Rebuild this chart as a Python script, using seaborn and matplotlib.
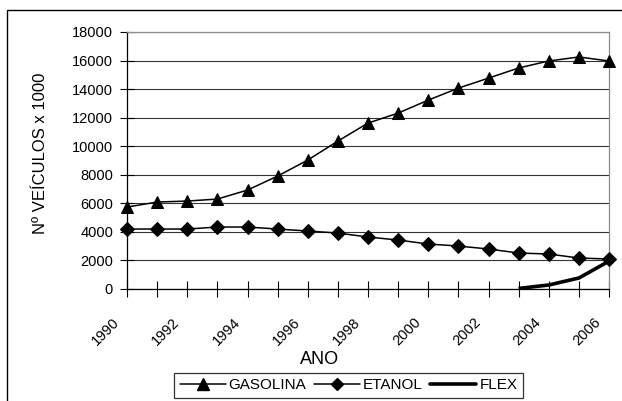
import matplotlib
matplotlib.use("Agg")
import matplotlib.pyplot as plt
import matplotlib.transforms as mtransforms
from matplotlib.patches import Rectangle
from matplotlib.lines import Line2D
import seaborn as sns
import pandas as pd

years = [1990, 1991, 1992, 1993, 1994, 1995, 1996, 1997, 1998,
         1999, 2000, 2001, 2002, 2003, 2004, 2005, 2006]
gasolina = [5740, 6090, 6160, 6300, 6930, 7910, 9030, 10360, 11620,
            12320, 13230, 14070, 14770, 15480, 15970, 16250, 15970]
etanol = [4200, 4200, 4200, 4340, 4340, 4200, 4060, 3920, 3640,
          3430, 3150, 3010, 2800, 2520, 2450, 2170, 2100]
flex_years = [2003, 2004, 2005, 2006]
flex = [40, 280, 770, 1950]
year_ticks = list(range(1990, 2007, 2))
y_ticks = list(range(0, 18001, 2000))

sns.set_theme(style="white")
plt.rcParams["font.family"] = ["Liberation Sans", "DejaVu Sans"]
plt.rcParams["text.color"] = "black"
plt.rcParams["axes.labelcolor"] = "black"
plt.rcParams["xtick.color"] = "black"
plt.rcParams["ytick.color"] = "black"

fig = plt.figure(figsize=(6.22, 4.01), dpi=100)
W, H = 622, 401
ax = fig.add_axes([127 / W, 1 - 289 / H, (609 - 127) / W, (289 - 32) / H])

df_g = pd.DataFrame({"ano": years, "v": gasolina})
df_e = pd.DataFrame({"ano": years, "v": etanol})
df_f = pd.DataFrame({"ano": flex_years, "v": flex})

sns.lineplot(data=df_g, x="ano", y="v", ax=ax, color="black", lw=1.1,
             marker="^", markersize=9, markeredgecolor="black",
             markerfacecolor="black", clip_on=False, zorder=4)
sns.lineplot(data=df_e, x="ano", y="v", ax=ax, color="black", lw=1.1,
             marker="D", markersize=7, markeredgecolor="black",
             markerfacecolor="black", clip_on=False, zorder=4)
sns.lineplot(data=df_f, x="ano", y="v", ax=ax, color="black", lw=2.6,
             clip_on=False, zorder=4, solid_capstyle="butt")

ax.set_xlim(1990, 2006)
ax.set_ylim(0, 18000)
ax.tick_params(axis="x", bottom=True, direction="inout", length=12,
               width=0.8, color="black", pad=4)
ax.tick_params(axis="y", left=True, direction="inout", length=10,
               width=0.8, color="black", pad=5)
ax.set_yticks(y_ticks)
ax.set_yticklabels([str(v) for v in y_ticks], fontsize=10.5, color="black")
ax.set_xticks(years, minor=False)
ax.set_xticklabels([str(y) if y in year_ticks else "" for y in years],
                   fontsize=10.5, rotation=45, ha="right", va="top",
                   color="black")
offset = mtransforms.ScaledTranslation(-5 / 100, -12 / 100, fig.dpi_scale_trans)
for lbl in ax.get_xticklabels():
    lbl.set_transform(lbl.get_transform() + offset)

ax.grid(axis="y", color="#333333", lw=0.8)
ax.set_axisbelow(True)
for s in ["left", "bottom"]:
    ax.spines[s].set_color("black")
    ax.spines[s].set_linewidth(0.9)
for s in ["top", "right"]:
    ax.spines[s].set_color("#8c8c8c")
    ax.spines[s].set_linewidth(0.9)

ax.set_xlabel("ANO", fontsize=13, color="black")
ax.xaxis.set_label_coords((320 - 127) / 482, (289 - 351) / 257)
ax.xaxis.label.set_va("top")
ax.set_ylabel("Nº VEÍCULOS x 1000", fontsize=12, color="black")
ax.yaxis.set_label_coords((41 - 127) / 482, (289 - 153) / 257)
ax.yaxis.label.set_va("center")

handles = [
    Line2D([], [], color="black", lw=1.1, marker="^", markersize=8),
    Line2D([], [], color="black", lw=1.1, marker="D", markersize=6),
    Line2D([], [], color="black", lw=2.6),
]
leg = fig.legend(handles, ["GASOLINA", "ETANOL", "FLEX"], loc="upper center",
                 bbox_to_anchor=(348.5 / W, 1 - 373 / H), ncol=3,
                 fontsize=11, frameon=True, fancybox=False,
                 handlelength=3.0, handletextpad=0.2, columnspacing=0.5,
                 borderpad=0.35, borderaxespad=0)
leg.get_frame().set_edgecolor("black")
leg.get_frame().set_linewidth(0.9)
for t in leg.get_texts():
    t.set_color("black")

frame = Rectangle((7 / W, -0.2), 1.2, 1 - 10 / H + 0.2,
                  transform=fig.transFigure, fill=False, edgecolor="black",
                  lw=1.0, clip_on=False)
fig.patches.append(frame)

fig.savefig("out.png", dpi=100)
